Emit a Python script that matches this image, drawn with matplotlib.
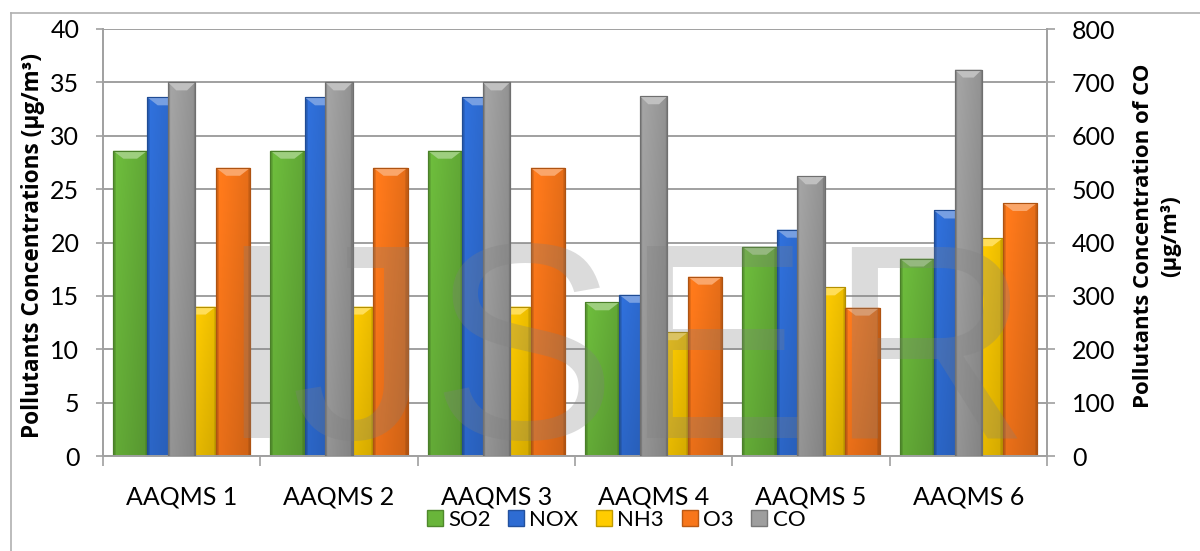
import numpy as np
import matplotlib
matplotlib.use("Agg")
import matplotlib.pyplot as plt
from matplotlib.patches import Polygon
from matplotlib.lines import Line2D
from matplotlib.colors import to_rgb

plt.rcParams['font.family'] = ['Lato', 'DejaVu Sans']

# ---- data -------------------------------------------------------------
stations = ["AAQMS 1", "AAQMS 2", "AAQMS 3", "AAQMS 4", "AAQMS 5", "AAQMS 6"]
so2 = [28.6, 28.6, 28.6, 14.4, 19.6, 18.5]
nox = [33.6, 33.6, 33.6, 15.1, 21.2, 23.0]
nh3 = [14.0, 14.0, 14.0, 11.6, 15.8, 20.4]
o3 = [27.0, 27.0, 27.0, 16.8, 13.9, 23.7]
co = [700, 700, 700, 674, 524, 724]

left_ticks = [0, 5, 10, 15, 20, 25, 30, 35, 40]
right_ticks = [0, 100, 200, 300, 400, 500, 600, 700, 800]

colors = {
    "SO2": "#69B53A",
    "NOX": "#2E6CD3",
    "NH3": "#FFCC00",
    "O3": "#F8761A",
    "CO": "#9E9E9E",
}

W, H, DPI = 1200, 551, 100
fig = plt.figure(figsize=(W / DPI, H / DPI), dpi=DPI)
fig.patch.set_facecolor("white")

x0, x1 = 103, 1047
y_top, y_zero = 29, 456
ax = fig.add_axes([x0 / W, (H - y_zero) / H, (x1 - x0) / W, (y_zero - y_top) / H])
ax2 = ax.twinx()

n = len(stations)
idx = np.arange(n)
bw = 0.218
cw = 0.172
ax.set_xlim(-0.5, n - 0.5)
ax.set_ylim(0, 40)
ax2.set_ylim(0, 800)

grid_c = "#A0A0A0"
title_font = ["Open Sans", "DejaVu Sans"]


def shade(c, f):
    r = np.array(to_rgb(c)) * f
    return np.clip(r, 0, 1)


def lighten(c, a):
    r = np.array(to_rgb(c))
    return r + (1 - r) * a


def bevel_bars(axis, xs, vals, width, color, ylim_top, zorder):
    bars = axis.bar(xs, vals, width=width, color=color,
                    edgecolor=shade(color, 0.72), linewidth=0.8, zorder=zorder)
    # pixel size in data units for the bevel decoration
    px_y = ylim_top / (y_zero - y_top)
    nx = 40
    t = np.linspace(0, 1, nx)
    prof = 1.06 - 0.14 * t
    prof[t < 0.06] = 0.86
    prof[t > 0.94] = 0.80
    ny = 30
    v = np.linspace(1.0, 0.9, ny)[:, None]
    base = np.array(to_rgb(color))
    img = np.clip(base[None, None, :] * prof[None, :, None] * v[:, :, None], 0, 1)
    for b in bars:
        bx, bwid, bh = b.get_x(), b.get_width(), b.get_height()
        im = axis.imshow(img, extent=[bx, bx + bwid, 0, bh], aspect="auto",
                         origin="upper", zorder=zorder + 0.1, interpolation="bilinear")
        im.set_clip_path(b)
        hh = 8 * px_y
        inset = bwid * 0.3
        top = Polygon([[bx, bh], [bx + bwid, bh], [bx + bwid - inset, bh - hh],
                       [bx + inset, bh - hh]], closed=True,
                      facecolor=lighten(color, 0.35), edgecolor="none",
                      zorder=zorder + 0.2)
        axis.add_patch(top)
        axis.add_patch(Polygon([[bx, bh], [bx + bwid, bh], [bx + bwid, 0], [bx, 0]],
                               closed=True, facecolor="none",
                               edgecolor=shade(color, 0.7), linewidth=0.8,
                               zorder=zorder + 0.3))
    return bars


offs = [-1.5, -0.5, 0.5, 1.5]
series = [("SO2", so2), ("NOX", nox), ("NH3", nh3), ("O3", o3)]
for o, (name, vals) in zip(offs, series):
    bevel_bars(ax, idx + o * bw, vals, bw, colors[name], 40, 2)

# CO on the secondary axis, centred in each group
bevel_bars(ax2, idx, co, cw, colors["CO"], 800, 2)

ax.set_xlim(-0.5, n - 0.5)
ax.set_ylim(0, 40)
ax2.set_ylim(0, 800)

# grid and axes styling
ax.set_yticks(left_ticks)
ax.yaxis.grid(True, color=grid_c, linewidth=1.4, zorder=0)
ax.set_axisbelow(True)
ax2.set_yticks(right_ticks)

for a in (ax, ax2):
    for s in a.spines.values():
        s.set_visible(False)
ax.spines["left"].set_visible(True)
ax.spines["left"].set_color(grid_c)
ax.spines["left"].set_linewidth(1.4)
ax.spines["bottom"].set_visible(True)
ax.spines["bottom"].set_color(grid_c)
ax.spines["bottom"].set_linewidth(1.4)
ax2.spines["right"].set_visible(True)
ax2.spines["right"].set_color(grid_c)
ax2.spines["right"].set_linewidth(1.4)

ax.tick_params(axis="y", direction="out", length=5, width=1.2, color=grid_c,
               labelsize=18, pad=12, labelcolor="black")
ax2.tick_params(axis="y", direction="out", length=6, width=1.2, color=grid_c,
                labelsize=18, pad=12, labelcolor="black")

ax.set_xticks(np.arange(-0.5, n, 1.0))
ax.set_xticklabels([])
ax.set_xticks(idx, minor=True)
ax.set_xticklabels(stations, minor=True)
ax.tick_params(axis="x", which="major", direction="out", length=7, width=1.2,
               color=grid_c)
ax.tick_params(axis="x", which="minor", length=0, labelsize=18, pad=21)

# axis titles
fig.text(33 / W, (H - 246) / H, "Pollutants Concentrations (µg/m³)",
         rotation=90, ha="center", va="center", fontsize=16.3, fontweight="bold",
         family=title_font)
fig.text(1157 / W, (H - 236) / H, "Pollutants Concentration of CO\n(µg/m³)",
         rotation=90, ha="center", va="center", fontsize=16, fontweight="bold",
         multialignment="center", linespacing=1.4, family=title_font)

# legend
order = ["SO2", "NOX", "NH3", "O3", "CO"]
handles = [Line2D([], [], marker="s", linestyle="none", markersize=11,
                  markerfacecolor=colors[k], markeredgecolor=shade(colors[k], 0.75))
           for k in order]
fig.legend(handles, order, loc="center", bbox_to_anchor=(616 / W, (H - 520) / H),
           ncol=5, frameon=False, fontsize=16, handlelength=0.7,
           handletextpad=0.25, columnspacing=0.8, borderpad=0)

# faint chart-area border
fig.add_artist(Line2D([11 / W, 11 / W], [0, (H - 13) / H], color="#B0B0B0",
                      linewidth=1.2, transform=fig.transFigure))
fig.add_artist(Line2D([11 / W, 1], [(H - 13) / H, (H - 13) / H], color="#B0B0B0",
                      linewidth=1.2, transform=fig.transFigure))

# background watermark lettering
mark = [("I", 256), ("J", 360), ("S", 523), ("E", 716), ("R", 929)]
for ch, cx in mark:
    fig.text(cx / W, (H - 438) / H, ch, fontsize=201, family="Liberation Sans",
             color="#7F7F7F", alpha=0.28, ha="center", va="baseline", zorder=10)

fig.savefig("out.png", dpi=DPI, facecolor="white")
